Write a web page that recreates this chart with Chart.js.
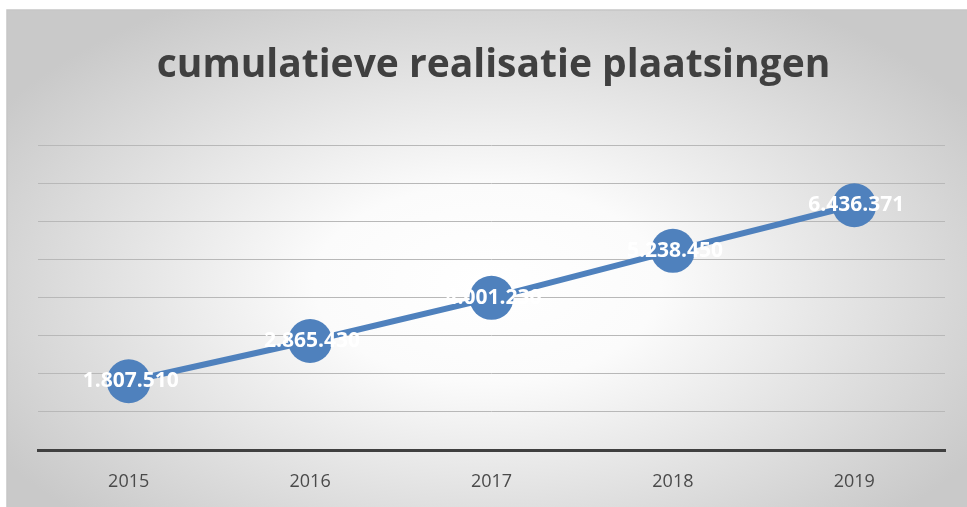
<!DOCTYPE html>
<html>
<head>
<meta charset="utf-8">
<script src="https://cdn.jsdelivr.net/npm/chart.js@4.4.0/dist/chart.umd.min.js"></script>
<style>
  html, body { margin: 0; padding: 0; background: #ffffff; }
  #wrap { position: relative; width: 967px; height: 507px; }
</style>
</head>
<body>
<div id="wrap"><canvas id="line-chart" width="967" height="507"></canvas></div>
<script>
const years = ["2015", "2016", "2017", "2018", "2019"];
const plaatsingen = [1807510, 2865430, 4001230, 5238450, 6436371];
const yMax = 8000000;
const yStep = 1000000;

const blue = "#4F81BD";

// excel-like frame with a soft radial gradient behind the plot
const chartBackground = {
  id: "chartBackground",
  beforeDraw: (chart) => {
    const ctx = chart.ctx;
    const x0 = 7, y0 = 10;
    const w = chart.width - x0, h = chart.height - y0;
    ctx.save();
    ctx.fillStyle = "#ffffff";
    ctx.fillRect(0, 0, chart.width, chart.height);
    ctx.translate(x0 + w / 2, y0 + h * 0.55);
    ctx.scale(1, h / w * 1.1);
    const g = ctx.createRadialGradient(0, 0, 0, 0, 0, w * 0.6);
    g.addColorStop(0, "#ffffff");
    g.addColorStop(0.3, "#fbfbfb");
    g.addColorStop(1, "#c9c9c9");
    ctx.fillStyle = g;
    ctx.fillRect(-w, -w, 2 * w, 2 * w);
    ctx.restore();
    ctx.save();
    ctx.fillStyle = "#ffffff";
    ctx.fillRect(0, 0, x0, chart.height);
    ctx.fillRect(0, 0, chart.width, y0);
    ctx.strokeStyle = "#c6c6c6";
    ctx.lineWidth = 1.5;
    ctx.beginPath();
    ctx.moveTo(x0, chart.height);
    ctx.lineTo(x0, y0);
    ctx.lineTo(chart.width, y0);
    ctx.stroke();
    ctx.restore();
  },
};

// white value labels centred on each marker
const valueLabels = {
  id: "valueLabels",
  afterDatasetsDraw: (chart) => {
    const ctx = chart.ctx;
    const meta = chart.getDatasetMeta(0);
    ctx.save();
    ctx.font = "bold 21px 'Open Sans'";
    ctx.fillStyle = "#ffffff";
    ctx.textAlign = "center";
    ctx.textBaseline = "middle";
    meta.data.forEach((pt, i) => {
      const txt = plaatsingen[i].toLocaleString("nl-NL");
      ctx.fillText(txt, pt.x + 2, pt.y);
    });
    ctx.restore();
  },
};

const ctx = document.getElementById("line-chart").getContext("2d");
new Chart(ctx, {
  type: "line",
  data: {
    labels: years,
    datasets: [
      {
        label: "plaatsingen",
        data: plaatsingen,
        borderColor: blue,
        backgroundColor: blue,
        borderWidth: 6,
        pointRadius: 22,
        pointHoverRadius: 22,
        pointBackgroundColor: blue,
        pointBorderWidth: 0,
        tension: 0,
        clip: false,
      },
    ],
  },
  options: {
    responsive: false,
    animation: false,
    layout: {
      padding: { left: 38, right: 18, top: 0, bottom: 0 },
    },
    scales: {
      x: {
        offset: true,
        grid: { display: false },
        border: { display: true, color: "#404040", width: 3 },
        ticks: {
          color: "#4a4a4a",
          font: { family: "'Open Sans'", size: 18 },
          padding: 13,
        },
        afterFit: (scale) => {
          scale.height = 57;
          scale.paddingLeft = 0;
          scale.paddingRight = 0;
        },
      },
      y: {
        min: 0,
        max: yMax,
        ticks: { display: false, stepSize: yStep },
        grid: { color: "#b8b8b8", lineWidth: 1, drawTicks: false },
        border: { display: false },
        afterFit: (scale) => {
          scale.width = 0;
          scale.paddingTop = 0;
          scale.paddingBottom = 0;
        },
      },
    },
    plugins: {
      legend: { display: false },
      tooltip: { enabled: false },
      title: {
        display: true,
        text: "cumulatieve realisatie plaatsingen",
        color: "#404040",
        font: { family: "'Open Sans'", size: 39, weight: "bold", lineHeight: 1.2 },
        padding: { top: 42, bottom: 57 },
      },
    },
  },
  plugins: [chartBackground, valueLabels],
});
</script>
</body>
</html>
